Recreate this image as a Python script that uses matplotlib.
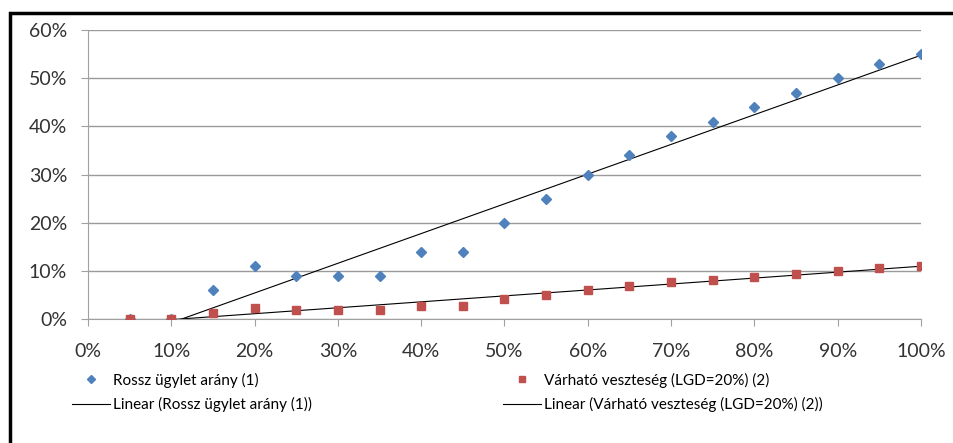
import matplotlib.pyplot as plt
import numpy as np
from matplotlib.patches import Rectangle
from matplotlib.ticker import PercentFormatter

plt.rcParams['font.family'] = ['Lato', 'DejaVu Sans']

# x values (share of population, %)
x_pct = [5, 10, 15, 20, 25, 30, 35, 40, 45, 50, 55, 60, 65, 70, 75, 80, 85, 90, 95, 100]
# Rossz ügylet arány (1), %
bad_rate = [0, 0, 6, 11, 9, 9, 9, 14, 14, 20, 25, 30, 34, 38, 41, 44, 47, 50, 53, 55]
# Várható veszteség (LGD=20%) (2), %
exp_loss = [0, 0, 1.2, 2.3, 1.8, 1.8, 1.8, 2.8, 2.8, 4.1, 5.0, 6.1, 6.8, 7.6, 8.2, 8.8, 9.4, 10, 10.6, 11]

x = np.array(x_pct)
y1 = np.array(bad_rate)
y2 = np.array(exp_loss)

fig = plt.figure(figsize=(9.54, 4.43), dpi=100)
ax = fig.add_axes([88 / 954, 1 - 319 / 443, (921 - 88) / 954, (319 - 30) / 443])

# chart border (cropped on right and bottom)
fig.patches.append(Rectangle((10 / 954, -0.05), 1.1, 1 - 13 / 443 + 0.05,
                             transform=fig.transFigure, fill=False,
                             edgecolor='black', linewidth=2.5))

blue = '#4F81BD'
red = '#C0504D'

h1, = ax.plot(x, y1, linestyle='none', marker='D', markersize=5, color=blue,
              label='Rossz ügylet arány (1)', zorder=3)
h2, = ax.plot(x, y2, linestyle='none', marker='s', markersize=5.5, color=red,
              label='Várható veszteség (LGD=20%) (2)', zorder=3)

xs = np.linspace(x.min(), x.max(), 200)
p1 = np.polyfit(x, y1, 1)
p2 = np.polyfit(x, y2, 1)
h3, = ax.plot(xs, np.polyval(p1, xs), color='black', linewidth=0.8,
              label='Linear (Rossz ügylet arány (1))', zorder=2)
h4, = ax.plot(xs, np.polyval(p2, xs), color='black', linewidth=0.8,
              label='Linear (Várható veszteség (LGD=20%) (2))', zorder=2)

ax.set_xlim(0, 100)
ax.set_ylim(0, 60)
ax.set_xticks(np.arange(0, 101, 10))
ax.set_yticks(np.arange(0, 61, 10))
ax.xaxis.set_major_formatter(PercentFormatter(decimals=0))
ax.yaxis.set_major_formatter(PercentFormatter(decimals=0))
ax.yaxis.grid(True, color='#9a9a9a', linewidth=1)
ax.set_axisbelow(True)
for s in ['top', 'right']:
    ax.spines[s].set_visible(False)
for s in ['left', 'bottom']:
    ax.spines[s].set_color('#a0a0a0')
ax.tick_params(axis='both', colors='#a0a0a0', labelcolor='#333333',
               labelsize=14, length=5)
ax.tick_params(axis='x', pad=12)
ax.tick_params(axis='y', pad=10)

fig.legend(handles=[h1, h3, h2, h4], ncol=2, loc='upper left',
           bbox_to_anchor=(58 / 954, 1 - 359 / 443), frameon=False,
           fontsize=11, handlelength=2.5, handletextpad=0.2,
           columnspacing=12.5, labelspacing=0.63, markerscale=0.8)

fig.savefig('out.png', dpi=100)
